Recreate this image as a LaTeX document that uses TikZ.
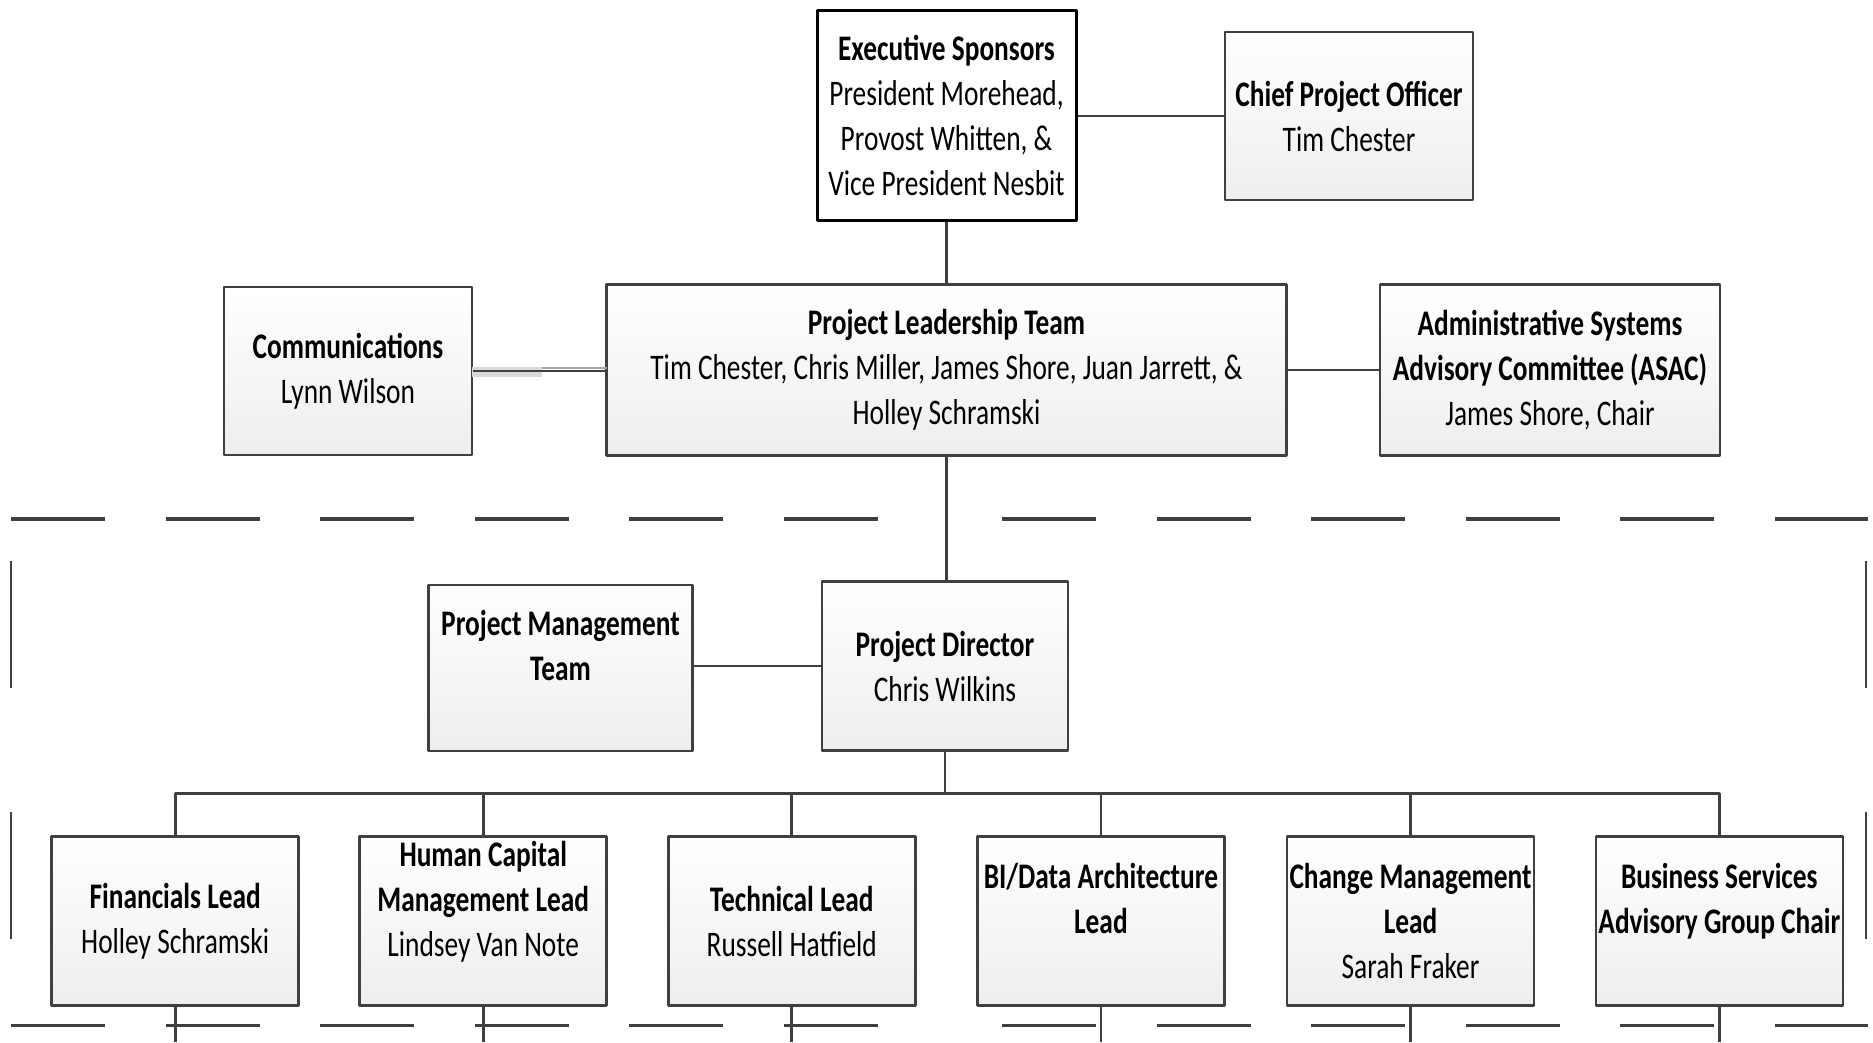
\documentclass[tikz,border=0pt]{standalone}
\usepackage{fontspec}
\setmainfont[FakeStretch=0.76]{Carlito}
\definecolor{linecol}{RGB}{64,64,64}
\definecolor{boxbot}{RGB}{238,238,238}
\newcommand{\orgfont}{\fontsize{18bp}{22.5bp}\selectfont}
\tikzset{
  orgbox/.style={draw=linecol, line width=1.25bp, top color=white, bottom color=boxbot,
    minimum width=124bp, minimum height=84bp, inner sep=0pt, align=center, font=\orgfont},
  leadbox/.style={orgbox, minimum width=123.5bp, minimum height=84.5bp},
  sponsorbox/.style={draw=black, line width=1.5bp, fill=white, inner sep=0pt,
    align=center, font=\orgfont},
  link/.style={draw=linecol, line width=1.4bp},
  framedash/.style={draw=linecol, line width=1.7bp, dash pattern=on 47bp off 30.3bp},
  frameside/.style={draw=linecol, line width=1.1bp, dash pattern=on 63.5bp off 62bp},
}
\begin{document}
\begin{tikzpicture}[x=0.5bp,y=-0.5bp,line join=bevel]
\useasboundingbox (0,0) rectangle (1873,1042);
%%
  % Node: exec
  \node[sponsorbox, minimum width=129.5bp, minimum height=105bp] (exec) at (946.5,115)
    {\textbf{Executive Sponsors}\\President Morehead,\\Provost Whitten, \&\\Vice President Nesbit};
  % Node: chief
  \node[orgbox] (chief) at (1349,116) {\textbf{Chief Project Officer}\\Tim Chester};
  % Node: comm
  \node[orgbox] (comm) at (348,371) {\textbf{Communications}\\Lynn Wilson};
  % Node: plt
  \node[orgbox, minimum width=340bp, minimum height=85.5bp] (plt) at (946.5,370)
    {\textbf{Project Leadership Team}\\Tim Chester, Chris Miller, James Shore, Juan Jarrett, \&\\Holley Schramski};
  % Node: asac
  \node[orgbox, minimum width=170bp, minimum height=85.5bp] (asac) at (1550,370)
    {\textbf{Administrative Systems}\\\textbf{Advisory Committee (ASAC)}\\James Shore, Chair};
  % Node: pmt
  \node[orgbox, minimum width=132bp, minimum height=83bp] (pmt) at (560.5,668)
    {\textbf{Project Management}\\\textbf{Team}\\\mbox{}};
  % Node: pd
  \node[orgbox, minimum width=123bp, minimum height=84.5bp] (pd) at (945,666)
    {\textbf{Project Director}\\Chris Wilkins};
  % Node: fin
  \node[leadbox] (fin) at (175.2,921.2) {\textbf{Financials Lead}\\Holley Schramski};
  % Node: hcm
  \node[leadbox] (hcm) at (483.2,921.2) {\textbf{Human Capital}\\\textbf{Management Lead}\\Lindsey Van Note\\\mbox{}};
  % Node: tech
  \node[leadbox] (tech) at (791.8,921.2) {\textbf{Technical Lead}\\Russell Hatfield};
  % Node: bi
  \node[leadbox] (bi) at (1100.9,921.2) {\textbf{BI/Data Architecture}\\\textbf{Lead}\\\mbox{}};
  % Node: chg
  \node[leadbox] (chg) at (1410.5,921.2) {\textbf{Change Management}\\\textbf{Lead}\\Sarah Fraker};
  % Node: bsac
  \node[leadbox] (bsac) at (1719.3,921.2) {\textbf{Business Services}\\\textbf{Advisory Group Chair}\\\mbox{}};
%%
  \coordinate (bus) at (946.7,793.3);
  \coordinate (cut) at (0,1042);
  % Edge: exec -> chief
  \draw[link] (exec.east |- chief.west) -- (chief.west);
  % Edge: exec -> plt
  \draw[link] (exec.south) -- (plt.north);
  % Edge: comm -> plt
  \fill[gray!30] (472,366.7) rectangle (542,376.7);
  \fill[gray!70] (542,366.7) rectangle (607,369.3);
  \draw[link] (comm.east) -- (comm.east -| plt.west);
  % Edge: plt -> asac
  \draw[link] (plt.east) -- (asac.west);
  % Edge: plt -> pd
  \draw[link] (plt.south) -- (plt.south |- pd.north);
  % Edge: pmt -> pd
  \draw[link] (pd.west) -- (pd.west -| pmt.east);
  % Edge: pd -> leads
  \draw[link] (pd.south) -- (pd.south |- bus);
  \draw[link] (fin.north) -- (fin.north |- bus) -- (bsac.north |- bus) -- (bsac.north);
  \foreach \lead in {hcm,tech,bi,chg}
    \draw[link] (\lead.north) -- (\lead.north |- bus);
  \foreach \lead in {fin,hcm,tech,bi,chg,bsac}
    \draw[link] (\lead.south) -- (\lead.south |- cut);
%%
  % dashed frame
  \draw[framedash] (11,519) -- (880,519);
  \draw[framedash] (1002,519) -- (1868,519);
  \draw[framedash] (11,1025.3) -- (880,1025.3);
  \draw[framedash] (1002,1025.3) -- (1868,1025.3);
  \draw[frameside] (11,561) -- (11,1042);
  \draw[frameside] (1866,561) -- (1866,1042);
%
\end{tikzpicture}
\end{document}
